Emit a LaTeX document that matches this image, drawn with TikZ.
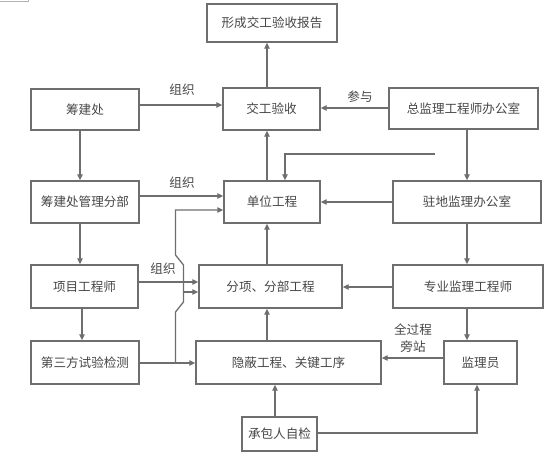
\documentclass[tikz,border=0pt]{standalone}
\usepackage{fontspec}
\setmainfont{Noto Sans CJK SC}
\usetikzlibrary{arrows.meta}
\definecolor{ln}{RGB}{110,110,110}
\definecolor{tx}{RGB}{70,70,70}
\begin{document}
\begin{tikzpicture}[x=1pt,y=-1pt,
  box/.style={draw=ln,line width=1.4pt,rectangle,inner sep=0pt,text=tx,font=\fontsize{12.6}{14}\selectfont},
  arr/.style={draw=ln,line width=1.3pt,-{Triangle[length=6pt,width=5.5pt]}},
  lab/.style={text=tx,font=\fontsize{12.6}{14}\selectfont,inner sep=0pt}]
\useasboundingbox (0,0) rectangle (558,460);
\draw[draw=black!30,line width=0.8pt] (0,1.5) -- (28,1.5) -- (28,0);
% boxes
\node[box,minimum width=130pt,minimum height=38pt] (rep) at (272,23) {形成交工验收报告};
\node[box,minimum width=108pt,minimum height=41pt] (cjc) at (85,109.5) {筹建处};
\node[box,minimum width=97pt,minimum height=42pt] (jg) at (271.5,109) {交工验收};
\node[box,minimum width=149pt,minimum height=41pt] (zj) at (463.5,108.5) {总监理工程师办公室};
\node[box,minimum width=108pt,minimum height=42pt] (fb) at (85,202) {筹建处管理分部};
\node[box,minimum width=96pt,minimum height=42pt] (dw) at (272,202) {单位工程};
\node[box,minimum width=148pt,minimum height=42pt] (zd) at (467,202) {驻地监理办公室};
\node[box,minimum width=107pt,minimum height=43pt] (xm) at (84.5,286.5) {项目工程师};
\node[box,minimum width=143pt,minimum height=43pt] (fx) at (270.5,286.5) {分项、分部工程};
\node[box,minimum width=150pt,minimum height=43pt] (zy) at (468,286.5) {专业监理工程师};
\node[box,minimum width=108pt,minimum height=43pt] (ds) at (85,362.5) {第三方试验检测};
\node[box,minimum width=185pt,minimum height=43pt] (yb) at (288.5,362.5) {隐蔽工程、关键工序};
\node[box,minimum width=73pt,minimum height=43pt] (jl) at (480.5,362.5) {监理员};
\node[box,minimum width=75pt,minimum height=34pt] (cb) at (279.5,434) {承包人自检};
% labels
\node[lab] (l1) at (182,90) {组织};
\node[lab] (l2) at (182,183) {组织};
\node[lab] (l3) at (163,269) {组织};
\node[lab] (l4) at (360,97) {参与};
\node[lab] (l5) at (413,330) {全过程};
\node[lab] (l6) at (413,347) {旁站};
% vertical arrows
\draw[arr] (dw.north -| 267,0) -- (jg.south -| 267,0);
\draw[arr] (jg.north -| 267,0) -- (rep.south -| 267,0);
\draw[arr] (fx.north -| 267,0) -- (dw.south -| 267,0);
\draw[arr] (yb.north -| 267,0) -- (fx.south -| 267,0);
\draw[arr] (cb.north -| 275,0) -- (yb.south -| 275,0);
\draw[arr] (cjc.south -| 80,0) -- (fb.north -| 80,0);
\draw[arr] (fb.south -| 80,0) -- (xm.north -| 80,0);
\draw[arr] (xm.south -| 82,0) -- (ds.north -| 82,0);
\draw[arr] (zj.south -| 467,0) -- (zd.north -| 467,0);
\draw[arr] (zd.south -| 467,0) -- (zy.north -| 467,0);
\draw[arr] (zy.south -| 467,0) -- (jl.north -| 467,0);
% horizontal arrows
\draw[arr] (cjc.east |- 0,105) -- (jg.west |- 0,105);
\draw[arr] (zj.west |- 0,108) -- (jg.east |- 0,108);
\draw[arr] (fb.east |- 0,196) -- (dw.west |- 0,196);
\draw[arr] (zd.west |- 0,202) -- (dw.east |- 0,202);
\draw[arr] (xm.east |- 0,282) -- (fx.west |- 0,282);
\draw[arr] (zy.west |- 0,287) -- (fx.east |- 0,287);
\draw[arr] (ds.east |- 0,363) -- (yb.west |- 0,363);
\draw[arr] (jl.west |- 0,358) -- (yb.east |- 0,358);
\draw[arr] (cb.east |- 0,433) -- (477,433) -- (jl.south -| 477,0);
% top feed into 单位工程
\coordinate (tf) at (435,154);
\draw[arr] (tf) -- (285,154) -- (dw.north -| 285,0);
% bypass line from 第三方 arrow
\coordinate (jn) at (175.5,363);
\draw[arr] (jn) -- (175.5,312) -- (183.5,302) -- (183.5,265) -- (175.5,255) -- (175.5,210) -- (dw.west |- 0,210);
\coordinate (bp) at (183.5,292);
\draw[arr] (bp) -- (fx.west |- 0,292);
\end{tikzpicture}
\end{document}
